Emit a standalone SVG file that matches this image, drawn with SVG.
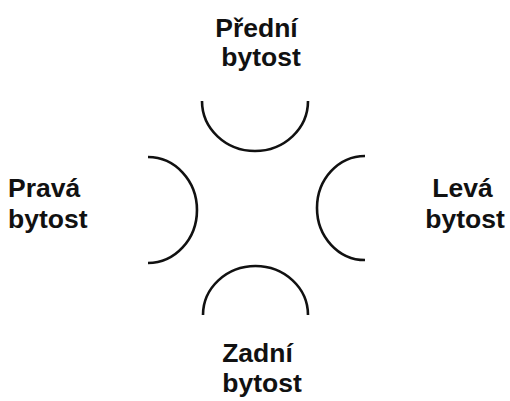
<svg xmlns="http://www.w3.org/2000/svg" width="510" height="401" viewBox="0 0 510 401">
<style>
.arc{fill:none;stroke:#111;stroke-width:2.6;stroke-linecap:butt}
.lbl{font-family:"Liberation Sans",Arial,sans-serif;font-weight:bold;font-size:26.5px;fill:#111}
.m{text-anchor:middle}
</style>
<rect width="510" height="401" fill="#fff"/>
<g id="connectors">
<path class="arc" d="M202,101 A53,50 0 0 0 308,101"/>
<path class="arc" d="M148,157 A49,53 0 0 1 148,263"/>
<path class="arc" d="M365,156 A48,52 0 0 0 365,260"/>
<path class="arc" d="M203,315 A52.5,49 0 0 1 308,315"/>
</g>
<g id="predni">
<text class="lbl m" x="256.5" y="37">Přední</text>
<text class="lbl m" x="261" y="66">bytost</text>
</g>
<g id="prava">
<text class="lbl" x="8" y="197">Pravá</text>
<text class="lbl" x="8" y="228">bytost</text>
</g>
<g id="leva">
<text class="lbl m" x="462.5" y="197">Levá</text>
<text class="lbl m" x="465" y="228">bytost</text>
</g>
<g id="zadni">
<text class="lbl m" x="257.5" y="362">Zadní</text>
<text class="lbl m" x="262" y="392">bytost</text>
</g>
</svg>
